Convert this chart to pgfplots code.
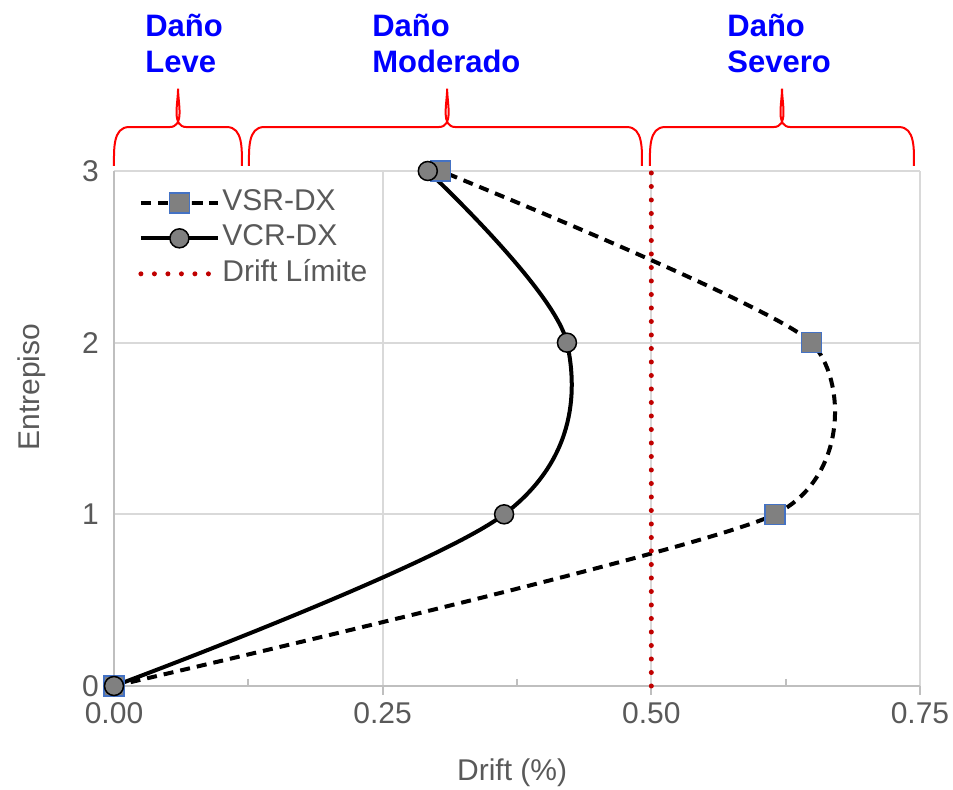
\documentclass[border=0pt]{standalone}
\usepackage{fontspec}
\setmainfont{Liberation Sans}
\usepackage{pgfplots}
\pgfplotsset{compat=1.18}
\definecolor{txtgray}{HTML}{595959}
\definecolor{gridgray}{HTML}{D9D9D9}
\definecolor{axgray}{HTML}{BFBFBF}
\definecolor{mkgray}{HTML}{808080}
\definecolor{mkblue}{HTML}{4472C4}
\definecolor{limred}{HTML}{C00000}

\begin{document}
\begin{tikzpicture}
\useasboundingbox (-57pt,-52pt) rectangle (419.5pt,343pt);
\begin{axis}[
  at={(0pt,0pt)}, anchor=south west,
  scale only axis, width=403pt, height=257.5pt,
  xmin=0, xmax=0.75, ymin=0, ymax=3,
  clip=false,
  axis x line*=bottom, axis y line*=left,
  axis line style={-, draw=axgray, line width=1pt},
  xtick={0,0.25,0.5,0.75}, xticklabels={0.00,0.25,0.50,0.75},
  minor xtick={0.125,0.375,0.625},
  ytick={0,1,2,3}, yticklabels={0,1,2,3},
  /pgf/number format/assume math mode=true,
  xtick align=outside,
  major tick length=4.5pt, minor tick length=-3.5pt,
  every tick/.style={draw=axgray, line width=1pt},
  ytick style={draw=none},
  grid=major,
  major grid style={draw=gridgray, line width=1pt},
  tick label style={font=\fontsize{15}{18}\selectfont, text=txtgray},
  yticklabel style={xshift=-4pt},
  label style={font=\fontsize{15}{18}\selectfont, text=txtgray},
  xlabel={Drift (\%)},
  ylabel={Entrepiso},
  xlabel style={at={(axis description cs:0.494,-0.168)}, anchor=center},
  ylabel style={at={(axis description cs:-0.102,0.58)}, anchor=center},
  legend style={draw=none, fill=none,
    at={(axis description cs:0.0298,0.971)}, anchor=north west,
    inner sep=0pt, row sep=1.25pt,
    font=\fontsize{15}{17}\selectfont, text=txtgray,
    nodes={inner sep=1pt, text height=11pt, text depth=3.5pt}},
  legend cell align=left,
  legend image code/.code={\draw[mark repeat=2, mark phase=2]
    plot coordinates {(0pt,0pt) (19.25pt,0pt) (38.5pt,0pt)};},
]
% Storey drift without (VSR) and with (VCR) retrofitting, direction X
\addplot[black, line width=2pt, dash pattern=on 5pt off 3.5pt, smooth, tension=0.38,
  mark=square*, mark size=5pt,
  mark options={solid, fill=mkgray, draw=mkblue, line width=0.75pt}]
  coordinates {(0,0) (0.615,1) (0.649,2) (0.304,3)};
\addlegendentry{VSR-DX}
\addplot[black, line width=2pt, smooth, tension=0.55,
  mark=*, mark size=4.75pt,
  mark options={solid, fill=mkgray, draw=black, line width=0.75pt}]
  coordinates {(0,0) (0.363,1) (0.4215,2) (0.292,3)};
\addlegendentry{VCR-DX}
% Drift limit
\addplot[limred, line width=2.5pt, line cap=round, dash pattern=on 0pt off 6.75pt, mark=none]
  coordinates {(0.5,0) (0.5,3)};
\addlegendentry{Drift L\'imite}

% Damage ranges: braces and labels
\draw[red, line width=1pt]
  (axis cs:0,3.03) to[out=90,in=180] (axis cs:0.014,3.256)
  -- (axis cs:0.0516,3.256) to[out=0,in=270] (axis cs:0.0596,3.48)
  to[out=270,in=180] (axis cs:0.0676,3.256)
  -- (axis cs:0.105,3.256) to[out=0,in=90] (axis cs:0.119,3.03);
\draw[red, line width=1pt]
  (axis cs:0.1256,3.03) to[out=90,in=180] (axis cs:0.1396,3.256)
  -- (axis cs:0.302,3.256) to[out=0,in=270] (axis cs:0.31,3.48)
  to[out=270,in=180] (axis cs:0.318,3.256)
  -- (axis cs:0.4773,3.256) to[out=0,in=90] (axis cs:0.4913,3.03);
\draw[red, line width=1pt]
  (axis cs:0.4987,3.03) to[out=90,in=180] (axis cs:0.5127,3.256)
  -- (axis cs:0.6136,3.256) to[out=0,in=270] (axis cs:0.6216,3.48)
  to[out=270,in=180] (axis cs:0.6296,3.256)
  -- (axis cs:0.7304,3.256) to[out=0,in=90] (axis cs:0.7444,3.03);
\node[anchor=north west, inner sep=0pt, align=left, text=blue,
  font=\bfseries\fontsize{15.5}{18}\selectfont] at (axis cs:0.0288,3.914) {Daño\\Leve};
\node[anchor=north west, inner sep=0pt, align=left, text=blue,
  font=\bfseries\fontsize{15.5}{18}\selectfont] at (axis cs:0.24,3.914) {Daño\\Moderado};
\node[anchor=north west, inner sep=0pt, align=left, text=blue,
  font=\bfseries\fontsize{15.5}{18}\selectfont] at (axis cs:0.5704,3.914) {Daño\\Severo};
\end{axis}
\end{tikzpicture}
\end{document}
